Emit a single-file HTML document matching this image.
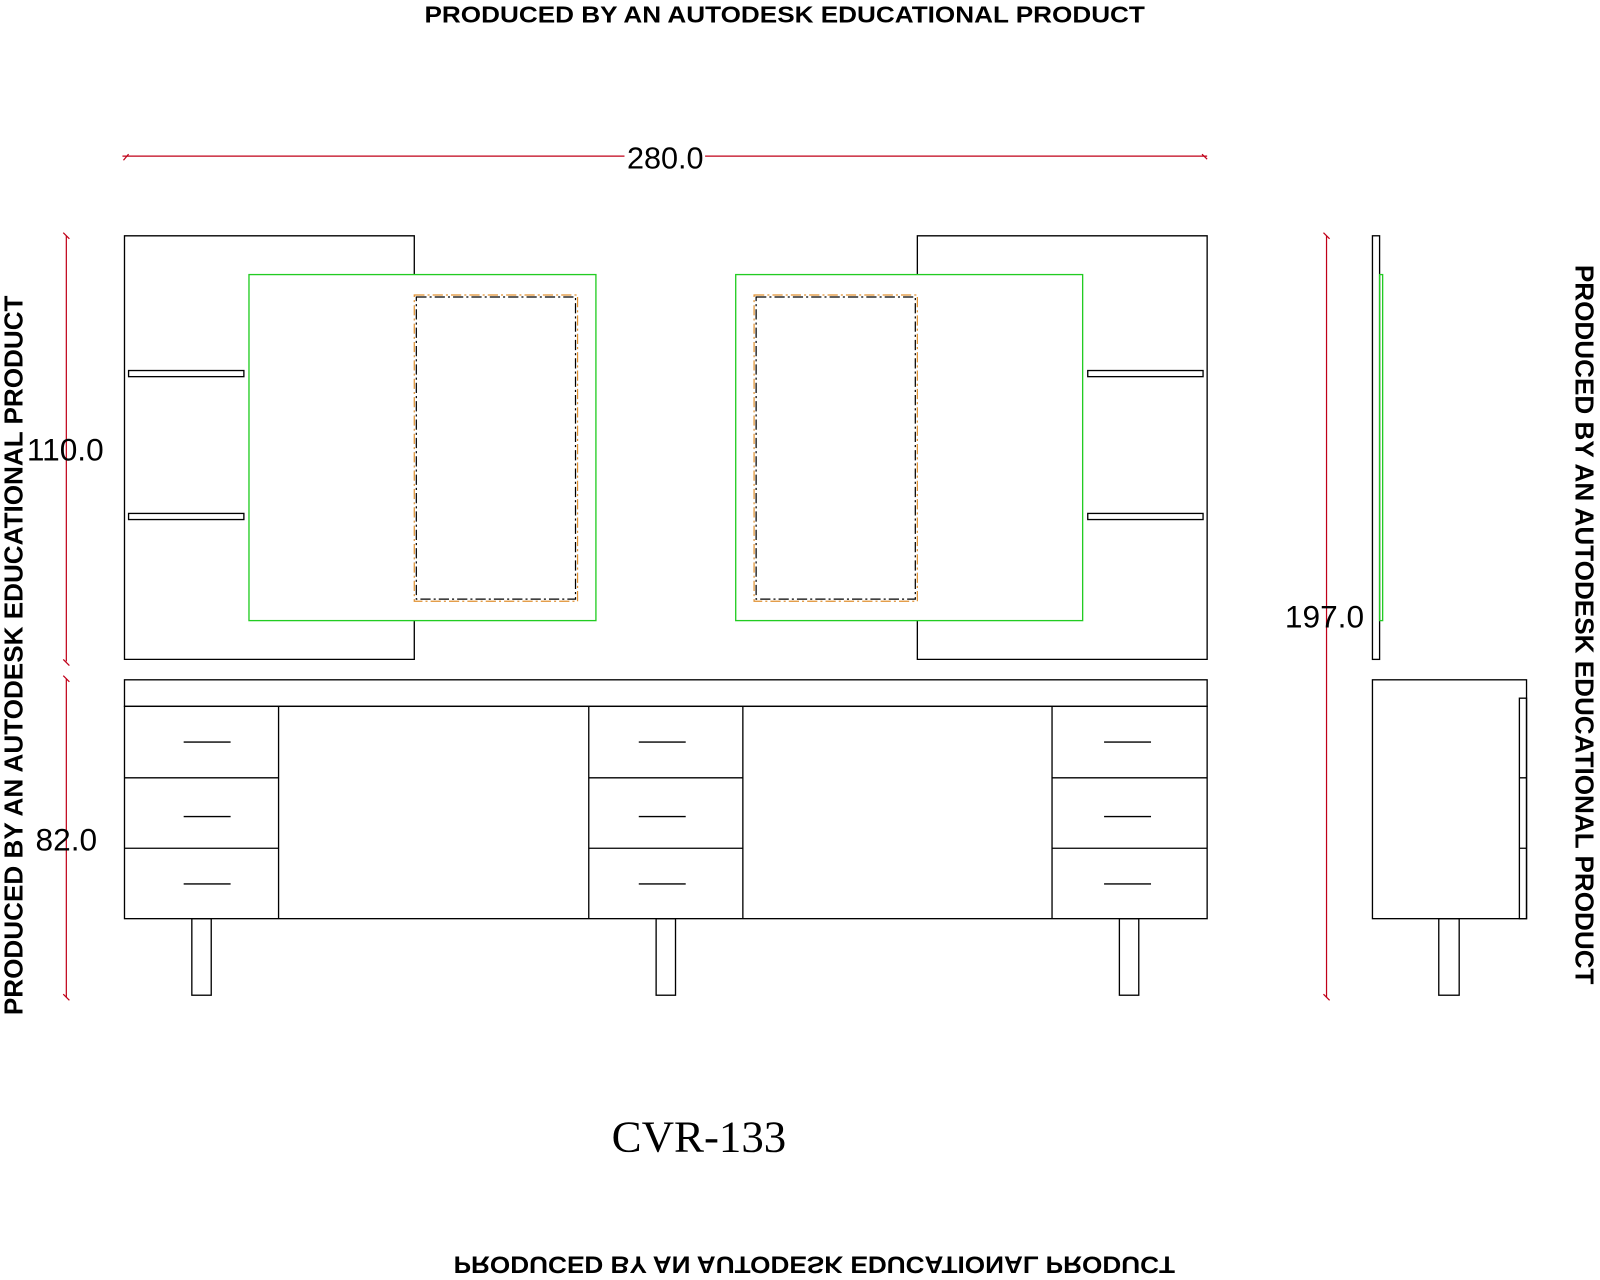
<!DOCTYPE html>
<html><head><meta charset="utf-8"><style>
html,body{margin:0;padding:0;background:#fff;}
svg{display:block;}
text{font-family:"Liberation Sans",sans-serif;}
</style></head><body>
<svg width="1600" height="1280" viewBox="0 0 1568 1254" preserveAspectRatio="none" xmlns="http://www.w3.org/2000/svg">
<rect width="1568" height="1254" fill="#fff"/>
<text x="769" y="22" font-size="23" font-weight="bold" text-anchor="middle" textLength="706" lengthAdjust="spacingAndGlyphs">PRODUCED BY AN AUTODESK EDUCATIONAL PRODUCT</text>
<text transform="translate(22,642) rotate(-90)" x="0" y="0" font-size="25" font-weight="bold" text-anchor="middle" textLength="705" lengthAdjust="spacingAndGlyphs">PRODUCED BY AN AUTODESK EDUCATIONAL PRODUCT</text>
<text transform="translate(1544,612) rotate(90)" x="0" y="0" font-size="25" font-weight="bold" text-anchor="middle" textLength="705" lengthAdjust="spacingAndGlyphs">PRODUCED BY AN AUTODESK EDUCATIONAL PRODUCT</text>
<text transform="translate(798,1231) scale(1,-1)" x="0" y="0" font-size="24" font-weight="bold" text-anchor="middle" textLength="707" lengthAdjust="spacingAndGlyphs">PRODUCED BY AN AUTODESK EDUCATIONAL PRODUCT</text>

<g stroke="#c00018" stroke-width="1.2" fill="none">
<line x1="120" y1="153" x2="1183" y2="153"/>
<path d="M121 157 L126 151 M1178 151 L1183 156"/>
<line x1="65" y1="231" x2="65" y2="648"/>
<path d="M62 228 L68 234 M62 646 L68 652"/>
<line x1="65" y1="665" x2="65" y2="977"/>
<path d="M62 662 L68 668 M62 974 L68 980"/>
<line x1="1300" y1="231" x2="1300" y2="977"/>
<path d="M1297 228 L1303 234 M1297 974 L1303 980"/>
</g>
<rect x="612" y="140" width="79" height="28" fill="#fff"/>
<text x="652" y="165" font-size="30" text-anchor="middle">280.0</text>
<text x="64" y="451" font-size="31" text-anchor="middle">110.0</text>
<text x="65" y="833" font-size="31" text-anchor="middle">82.0</text>
<text x="1298" y="615" font-size="31" text-anchor="middle">197.0</text>
<text x="685" y="1128" font-size="44" text-anchor="middle" style="font-family:'Liberation Serif',serif">CVR-133</text>

<g stroke="#000" stroke-width="1.3" fill="none">
<path d="M406 269 L406 231 L122 231 L122 646 L406 646 L406 608"/>
<path d="M899 269 L899 231 L1183 231 L1183 646 L899 646 L899 608"/>
<rect x="126" y="363" width="113" height="6"/>
<rect x="126" y="503" width="113" height="6"/>
<rect x="1066" y="363" width="113" height="6"/>
<rect x="1066" y="503" width="113" height="6"/>
<rect x="122" y="666" width="1061" height="26"/>
<rect x="122" y="692" width="1061" height="208"/>
<line x1="273" y1="692" x2="273" y2="900"/>
<line x1="577" y1="692" x2="577" y2="900"/>
<line x1="728" y1="692" x2="728" y2="900"/>
<line x1="1031" y1="692" x2="1031" y2="900"/>
<path d="M122 762 H273 M122 831 H273 M577 762 H728 M577 831 H728 M1031 762 H1183 M1031 831 H1183"/>
<path d="M180 727 H226 M180 800 H226 M180 866 H226 M626 727 H672 M626 800 H672 M626 866 H672 M1082 727 H1128 M1082 800 H1128 M1082 866 H1128"/>
<rect x="188" y="900" width="19" height="75"/>
<rect x="643" y="900" width="19" height="75"/>
<rect x="1097" y="900" width="19" height="75"/>
<rect x="1345" y="231" width="7" height="415"/>
<rect x="1345" y="666" width="151" height="234"/>
<rect x="1489" y="684" width="7" height="216"/>
<path d="M1489 762 H1496 M1489 831 H1496"/>
<rect x="1410" y="900" width="20" height="75"/>
</g>
<g stroke="#22cc22" stroke-width="1.3" fill="none">
<rect x="244" y="269" width="340" height="339"/>
<rect x="721" y="269" width="340" height="339"/>
<rect x="1352" y="269" width="3" height="339"/>
</g>
<g fill="none" stroke-width="1.2">
<rect x="406" y="289" width="160" height="300" stroke="#e09030" stroke-dasharray="10 3 2 3"/>
<rect x="408" y="291" width="156" height="296" stroke="#000" stroke-dasharray="10 3 2 3"/>
<rect x="739" y="289" width="160" height="300" stroke="#e09030" stroke-dasharray="10 3 2 3"/>
<rect x="741" y="291" width="156" height="296" stroke="#000" stroke-dasharray="10 3 2 3"/>
</g>
</svg>
</body></html>
